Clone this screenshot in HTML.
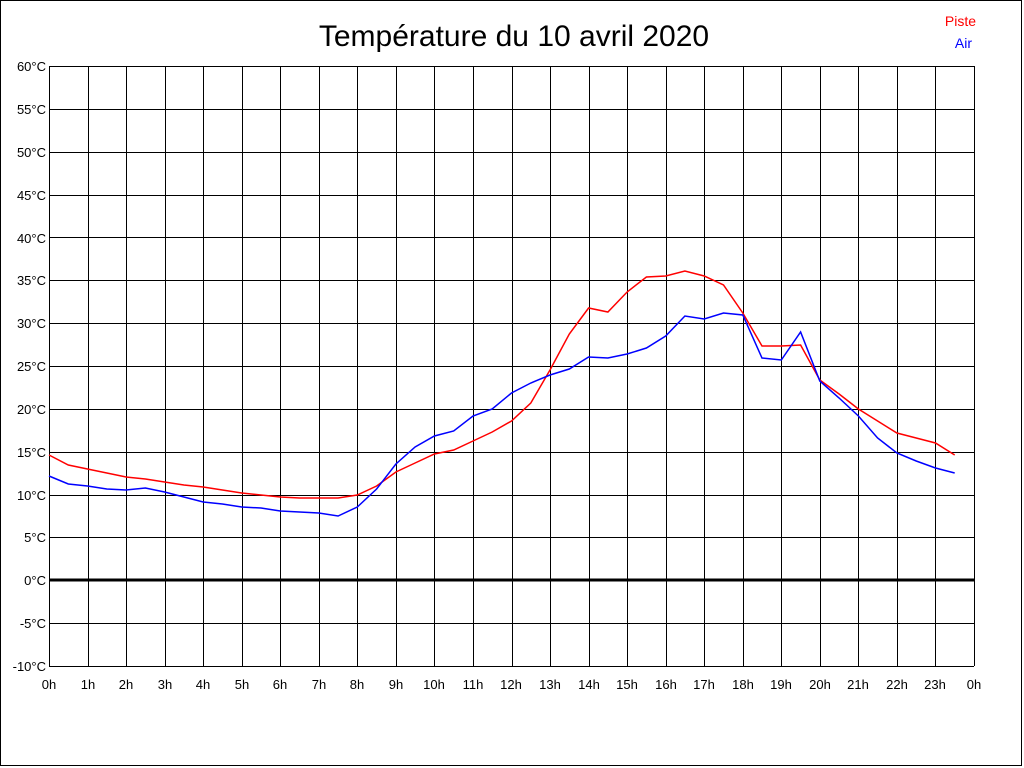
<!DOCTYPE html>
<html><head><meta charset="utf-8"><style>
html,body{margin:0;padding:0;background:#fff;}
svg{display:block;}
text{font-family:"Liberation Sans",sans-serif;}
</style></head><body>
<svg id="s" width="1024" height="768" viewBox="0 0 1024 768">
<rect x="0.5" y="0.5" width="1021" height="765" fill="#fff" stroke="#000" stroke-width="1"/>
<g id="grid" stroke="#000" stroke-width="1"></g>
<line x1="49" y1="580" x2="974" y2="580" stroke="#000" stroke-width="3"/>
<text x="514" y="46" font-size="30" text-anchor="middle" fill="#000">Température du 10 avril 2020</text>
<text x="976" y="26" font-size="14" text-anchor="end" fill="#f00">Piste</text>
<text x="972" y="48" font-size="14" text-anchor="end" fill="#00f">Air</text>
<g font-size="13" fill="#000" text-anchor="end">
<text x="46" y="71">60°C</text><text x="46" y="114">55°C</text><text x="46" y="157">50°C</text>
<text x="46" y="200">45°C</text><text x="46" y="243">40°C</text><text x="46" y="285">35°C</text>
<text x="46" y="328">30°C</text><text x="46" y="371">25°C</text><text x="46" y="414">20°C</text>
<text x="46" y="457">15°C</text><text x="46" y="500">10°C</text><text x="46" y="542">5°C</text>
<text x="46" y="585">0°C</text><text x="46" y="628">-5°C</text><text x="46" y="671">-10°C</text>
</g>
<g font-size="13" fill="#000" text-anchor="middle">
<text x="49" y="689">0h</text><text x="88" y="689">1h</text><text x="126" y="689">2h</text>
<text x="165" y="689">3h</text><text x="203" y="689">4h</text><text x="242" y="689">5h</text>
<text x="280" y="689">6h</text><text x="319" y="689">7h</text><text x="357" y="689">8h</text>
<text x="396" y="689">9h</text><text x="434" y="689">10h</text><text x="473" y="689">11h</text>
<text x="511" y="689">12h</text><text x="550" y="689">13h</text><text x="589" y="689">14h</text>
<text x="627" y="689">15h</text><text x="666" y="689">16h</text><text x="704" y="689">17h</text>
<text x="743" y="689">18h</text><text x="781" y="689">19h</text><text x="820" y="689">20h</text>
<text x="858" y="689">21h</text><text x="897" y="689">22h</text><text x="935" y="689">23h</text>
<text x="974" y="689">0h</text>
</g>
<polyline id="red" fill="none" stroke="#f00" stroke-width="1.5"/>
<polyline id="blue" fill="none" stroke="#00f" stroke-width="1.5"/>
</svg>
<script>
var g=document.getElementById('grid'),ns='http://www.w3.org/2000/svg';
function L(a,b,c,d){var l=document.createElementNS(ns,'line');l.setAttribute('x1',a);l.setAttribute('y1',b);l.setAttribute('x2',c);l.setAttribute('y2',d);g.appendChild(l);}
for(var i=0;i<=24;i++){var x=Math.round(49+i*925/24)+0.5;L(x,66,x,666);}
for(var j=0;j<=14;j++){var y=Math.round(66+j*600/14)+0.5;L(49,y,974,y);}
var R=[455,465,469,473,477,479,482,485,487,490,493,495,497,498,498,498,495,486,472,463,454,450,441,432,421,403,370,334,308,312,292,277,276,271,276,285,313,346,346,345,380,394,409,421,433,438,443,455];
var B=[476,484,486,489,490,488,492,497,502,504,507,508,511,512,513,516,507,489,464,447,436,431,416,409,393,383,375,369,357,358,354,348,336,316,319,313,315,358,360,332,381,398,416,438,453,461,468,473];
function P(a){return a.map(function(y,i){return (49+i*925/48).toFixed(1)+','+y}).join(' ');}
document.getElementById('red').setAttribute('points',P(R));
document.getElementById('blue').setAttribute('points',P(B));
</script>
</body></html>
